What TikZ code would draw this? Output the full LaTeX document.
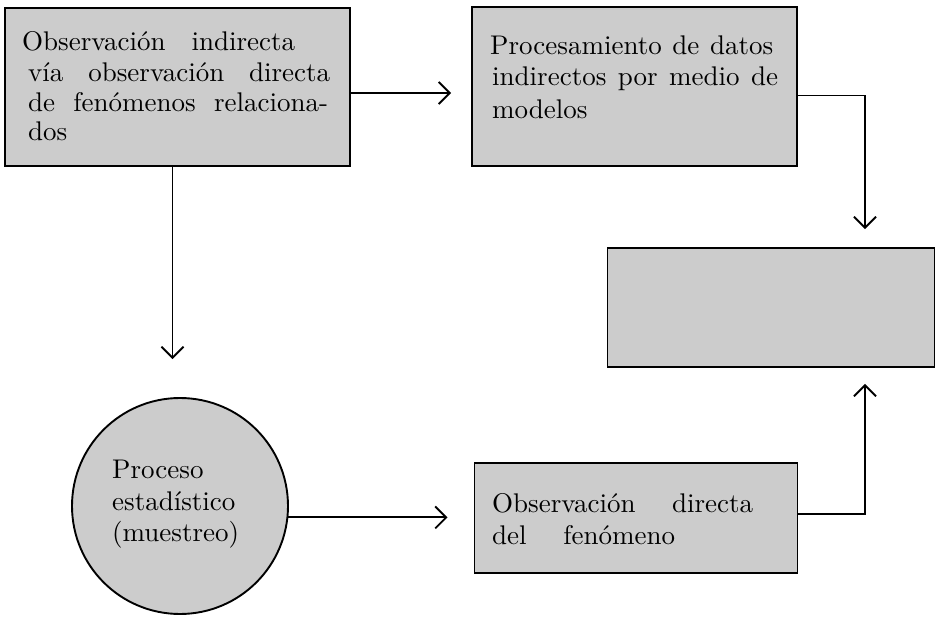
\documentclass[tikz,border=0pt]{standalone}
\usepackage{fontspec}
\setmainfont{lmroman10-regular.otf}
\usetikzlibrary{arrows.meta}
\definecolor{boxgray}{RGB}{204,204,204}
\begin{document}
\begin{tikzpicture}[x=1pt,y=-1pt,
  box/.style={draw=black,line width=1.9pt,fill=boxgray,rectangle,inner sep=0pt},
  txt/.style={anchor=base west,inner sep=0pt,font=\fontsize{27}{30}\selectfont},
  arr/.style={line width=1.9pt,-{Straight Barb[length=11pt,width=22pt,line width=1.9pt]}}]
\useasboundingbox[fill=white] (0,0) rectangle (937,617);
% boxes
\node[box,minimum width=345pt,minimum height=158pt] (A) at (177.5,87) {};
\node[box,minimum width=325pt,minimum height=159pt] (B) at (634.5,86.5) {};
\node[box,minimum width=327pt,minimum height=119pt] (C) at (771,307.5) {};
\node[box,minimum width=323pt,minimum height=110pt] (D) at (636,518) {};
\node[box,circle,minimum size=216pt] (P) at (180,506) {};
% texts A
\node[txt] (a1) at (22,51) {\makebox[273pt][s]{Observación indirecta}};
\node[txt] (a2) at (28,82) {\makebox[302pt][s]{vía observación directa}};
\node[txt] (a3) at (28,112) {\makebox[300pt][s]{de fenómenos relaciona-}};
\node[txt] (a4) at (28,141) {dos};
% texts B
\node[txt] (b1) at (490,55) {\makebox[283pt][s]{Procesamiento de datos}};
\node[txt] (b2) at (492,86) {\makebox[286pt][s]{indirectos por medio de}};
\node[txt] (b3) at (492,119) {modelos};
% texts circle
\node[txt] (p1) at (112,478) {Proceso};
\node[txt] (p2) at (112,510) {estadístico};
\node[txt] (p3) at (112,541) {(muestreo)};
% texts D
\node[txt] (d1) at (492,512) {\makebox[261pt][s]{Observación directa}};
\node[txt] (d2) at (492,544) {\makebox[183pt][s]{del fenómeno}};
% connectors
\draw[arr,shorten >=20pt] ([yshift=-6pt]A.east) -- ([yshift=-6pt]A.east -| B.west);
\draw[arr,shorten >=38pt] ([xshift=-5pt]A.south) -- ([xshift=-5pt]A.south |- P.north);
\draw[arr,shorten >=18pt] ([yshift=-9pt]B.east) -| ([xshift=94pt]C.north);
\draw[arr,shorten >=16pt] ([yshift=4pt]D.east) -| ([xshift=94pt]C.south);
\draw[arr,shorten >=26pt] (P.-6.4) -- (P.-6.4 -| D.west);
\end{tikzpicture}
\end{document}
